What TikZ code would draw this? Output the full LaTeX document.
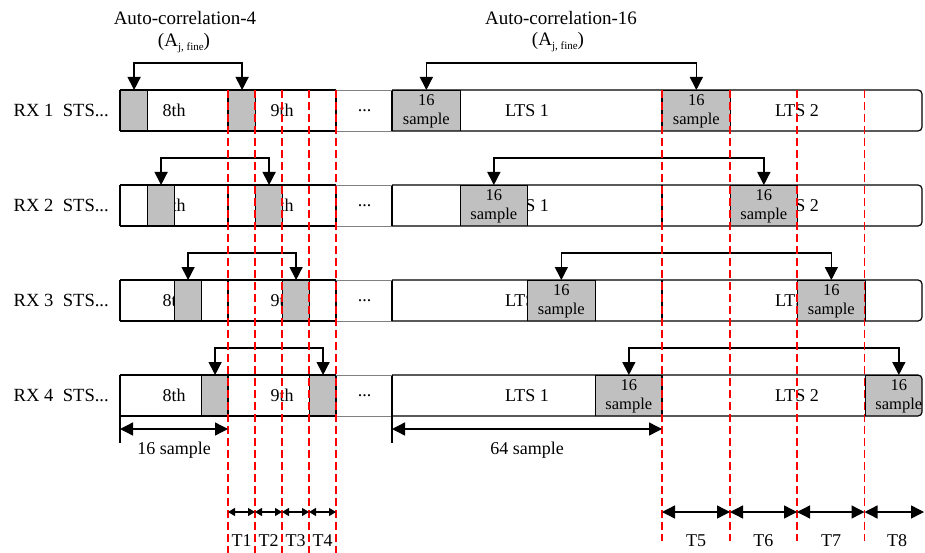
\documentclass[tikz,border=0pt]{standalone}
\usepackage{fontspec}
\setmainfont{Liberation Serif}
\usetikzlibrary{arrows.meta}

\definecolor{cellgray}{RGB}{192,192,192}
\newcommand\afine{(A\raisebox{-0.45ex}{\fontsize{11}{11}\selectfont j, fine})}

\begin{document}
\begin{tikzpicture}[x=1pt,y=-1pt,
  every node/.style={font=\fontsize{18}{20}\selectfont,inner sep=0pt},
  cell/.style={draw,line width=1.2pt,fill=cellgray,anchor=north west,minimum height=41pt},
  stscell/.style={cell,minimum width=27pt},
  ltscell/.style={cell,minimum width=67.5pt,align=center,font=\fontsize{16.5}{19}\selectfont},
  boxline/.style={line width=1.2pt},
  corr/.style={line width=1.4pt,{Triangle[length=13pt,width=13pt]}-{Triangle[length=13pt,width=13pt]}},
  dim/.style={line width=1.4pt,{Triangle[length=13pt,width=13pt]}-{Triangle[length=13pt,width=13pt]}},
  tick/.style={line width=1.3pt,{Triangle[length=7pt,width=8pt]}-{Triangle[length=7pt,width=8pt]}},
  marker/.style={red,line width=1.9pt,dash pattern=on 8pt off 4pt}]

  \useasboundingbox (0,0) rectangle (925,553);

  % Titles
  \node[font=\fontsize{19}{21}\selectfont] (ac4) at (185,18) {Auto-correlation-4};
  \node[font=\fontsize{19}{21}\selectfont] (aj4) at (184,43) {\afine};
  \node[font=\fontsize{19}{21}\selectfont] (ac16) at (561,18) {Auto-correlation-16};
  \node[font=\fontsize{19}{21}\selectfont] (aj16) at (558,42) {\afine};

  % One row per receiver
  \foreach \r in {1,...,4} {
    \pgfmathsetmacro\yt{90+95*(\r-1)}
    \pgfmathsetmacro\yb{\yt+41}
    \pgfmathsetmacro\yc{\yt+20.5}
    \pgfmathsetmacro\xs{120+27*(\r-1)}
    \pgfmathsetmacro\xl{392+67.5*(\r-1)}

    \node[anchor=east,font=\fontsize{18.6}{20}\selectfont] (rx\r) at (109,\yc) {RX \r\ \ STS...};
    \node (e\r) at (174,\yc) {8th};
    \node (n\r) at (282,\yc) {9th};
    \node (d\r) at (364.5,\yc) {...};
    \node (l\r) at (527,\yc) {LTS 1};
    \node (m\r) at (797,\yc) {LTS 2};

    % correlation windows
    \begin{scope}
      \clip[rounded corners=4pt] (120,\yt) rectangle (922,\yb);
      \node[stscell] (sa\r) at (\xs,\yt) {};
      \node[stscell] (sb\r) at (\xs+108,\yt) {};
      \node[ltscell] (la\r) at (\xl,\yt) {16\\sample};
      \node[ltscell] (lb\r) at (\xl+270,\yt) {16\\sample};
    \end{scope}

    \draw[boxline] (120,\yt) -- (336,\yt) (120,\yb) -- (336,\yb)
      (120,\yt) -- (120,\yb) (228,\yt) -- (228,\yb) (336,\yt) -- (336,\yb)
      (392,\yt) -- (392,\yb) (662,\yt) -- (662,\yb);
    \draw[gray,line width=0.6pt] (336,\yt) -- (392,\yt) (336,\yb) -- (392,\yb);
    \draw[boxline,rounded corners=4pt] (392,\yb) -| (922,\yt) -- (392,\yt);

    \draw[corr] (sa\r.north) -- ++(0,-27) -| (sb\r.north);
    \draw[corr] (la\r.north) -- ++(0,-27) -| (lb\r.north);
  }

  % Sample boundaries
  \foreach \x in {228,255,282,309,336}
    \draw[marker] (\x,90) -- (\x,553);
  \foreach \x in {662,730,797,864.5}
    \draw[marker] (\x,90) -- (\x,541);

  % Lengths
  \coordinate (w0) at (120,429);
  \coordinate (w1) at (228,429);
  \coordinate (v0) at (392,429);
  \coordinate (v1) at (662,429);
  \draw[boxline] (120,416) -- (120,443) (392,416) -- (392,443);
  \draw[dim] (w0) -- (w1);
  \draw[dim] (v0) -- (v1);
  \node (s16) at (174,450) {16 sample};
  \node (s64) at (527,450) {64 sample};

  % Time slots
  \foreach \x [count=\i from 0] in {228,255,282,309,336}
    \coordinate (p\i) at (\x,512);
  \foreach \x [count=\i from 0] in {662,730,797,864.5,924}
    \coordinate (q\i) at (\x,512);
  \foreach \i [count=\j from 1] in {0,...,3} {
    \draw[tick] (p\i) -- (p\j);
    \draw[dim] (q\i) -- (q\j);
  }
  \foreach \x [count=\i] in {241.5,268.5,295.5,322.5}
    \node (t\i) at (\x,541) {T\i};
  \foreach \x [count=\i from 5] in {696,763.3,831,897}
    \node (t\i) at (\x,541) {T\i};

\end{tikzpicture}
\end{document}
